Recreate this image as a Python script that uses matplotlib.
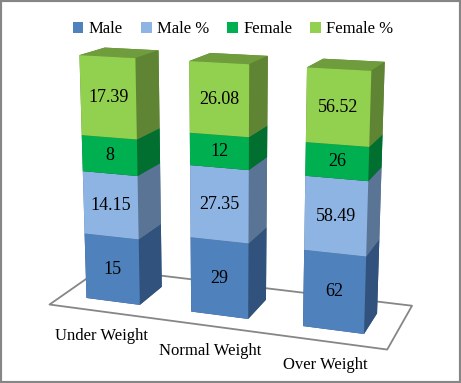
# Stacked 100% 3D bars, weight group by sex
import matplotlib
matplotlib.use("Agg")
import numpy as np
import matplotlib.pyplot as plt
from matplotlib.patches import Patch, Rectangle
from mpl_toolkits.mplot3d.art3d import Poly3DCollection

plt.rcParams["font.family"] = ["Liberation Serif", "DejaVu Serif"]

categories = ["Under Weight", "Normal Weight", "Over Weight"]
series_names = ["Male", "Male %", "Female", "Female %"]
male = [15, 29, 62]
male_pct = [14.15, 27.35, 58.49]
female = [8, 12, 26]
female_pct = [17.39, 26.08, 56.52]
series_labels = [["15", "29", "62"], ["14.15", "27.35", "58.49"],
                 ["8", "12", "26"], ["17.39", "26.08", "56.52"]]

front_colors = ["#4F81BD", "#8EB4E3", "#00B050", "#92D050"]
side_colors = ["#31527D", "#5A7495", "#006F30", "#5F8433"]
top_colors = ["#3E6797", "#7290B6", "#008C40", "#6F9C3C"]

W, H = 461, 383
fig = plt.figure(figsize=(W / 100, H / 100), dpi=100, facecolor="white")

# camera worked out from the picture's vanishing points
size = 500
left = 228 - 0.5135 * size
bottom = (H - 149) - 0.5135 * size
ax = fig.add_axes([left / W, bottom / H, size / W, size / H], projection="3d")
ax.set_proj_type("persp", focal_length=0.427)
ax.view_init(elev=12.9, azim=-70.4)
ax.set_box_aspect((1, 1, 1), zoom=2)
ax.computed_zorder = False
ax.set_axis_off()

# data units -> box: category pitch .517, 100% = 1.125
half = 1.1
cat0, pitch = -0.768, 0.517
floor_z, full = -0.9, 1.125
ax.set_xlim((-half - cat0) / pitch, (half - cat0) / pitch)
ax.set_ylim(-half, half)
ax.set_zlim((-half - floor_z) / full * 100, (half - floor_z) / full * 100)

# floor
y0, y1 = 0.464, 1.0
floor = Poly3DCollection([[(-0.5, y0, 0), (2.5, y0, 0), (2.5, y1, 0), (-0.5, y1, 0)]],
                         facecolors="white", edgecolors="#868686", linewidths=1.3, zorder=1)
ax.add_collection3d(floor)

# bars
bar_w = 0.518
by0, bar_d = 0.592, 0.255
values = np.array([male, male_pct, female, female_pct], dtype=float)
shares = values / values.sum(axis=0) * 100
bases = np.vstack([np.zeros(3), np.cumsum(shares, axis=0)[:-1]])

for i in range(len(categories)):
    for s in range(len(series_names)):
        # face order is -z, +z, -y, +y, -x, +x
        face_cols = [side_colors[s], top_colors[s], front_colors[s],
                     side_colors[s], side_colors[s], side_colors[s]]
        ax.bar3d(i - bar_w / 2, by0, bases[s, i], bar_w, bar_d, shares[s, i],
                 color=face_cols, shade=False, linewidth=0, zorder=2 + i + s * 0.1)

for i in range(len(categories)):
    for s in range(len(series_names)):
        ax.text(i, by0, bases[s, i] + shares[s, i] / 2, series_labels[s][i],
                ha="center", va="center", fontsize=13, color="black", zorder=10)

# category labels
label_pos = [(101, 336), (210, 351), (325, 365)]
for name, (px, py) in zip(categories, label_pos):
    fig.text(px / W, 1 - py / H, name, ha="center", va="center", fontsize=12, color="black")

handles = [Patch(facecolor=c, edgecolor="none") for c in front_colors]
fig.legend(handles, series_names, ncol=4, loc="center",
           bbox_to_anchor=(233 / W, 1 - 29 / H), frameon=False, fontsize=12,
           handlelength=0.65, handleheight=0.65, handletextpad=0.3, columnspacing=1.1,
           borderpad=0, borderaxespad=0)

# outer frame
fig.add_artist(Rectangle((0, 0), 1, 1, transform=fig.transFigure, fill=False,
                         edgecolor="#868686", linewidth=3))

fig.savefig("out.png", dpi=100)
